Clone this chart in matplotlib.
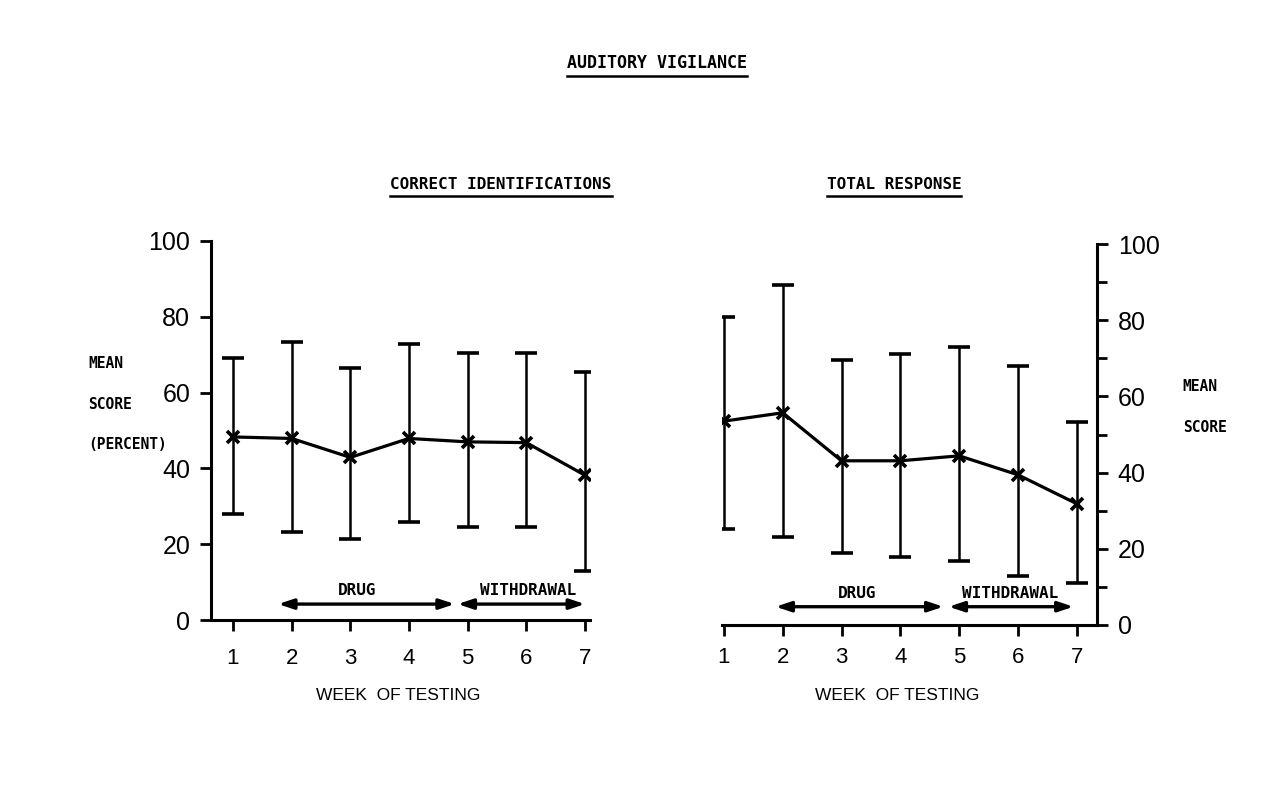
import matplotlib
matplotlib.use("Agg")
import matplotlib.pyplot as plt
from matplotlib.ticker import MultipleLocator

# weekly means and error-bar limits
weeks = [1, 2, 3, 4, 5, 6, 7]
correct_mean = [48.3, 47.9, 42.9, 47.9, 47.0, 46.8, 38.2]
correct_hi = [69.0, 73.4, 66.5, 72.9, 70.5, 70.5, 65.5]
correct_lo = [28.1, 23.1, 21.5, 25.8, 24.6, 24.6, 13.0]
total_mean = [53.5, 55.7, 43.1, 43.1, 44.4, 39.4, 31.8]
total_hi = [80.9, 89.2, 69.6, 71.0, 72.9, 68.0, 53.4]
total_lo = [25.2, 23.2, 19.0, 17.8, 16.9, 12.9, 10.9]

# treatment phases (start week, end week) and where their names sit
phase_names = ["DRUG", "WITHDRAWAL"]
correct_phases = [(1.77, 4.78), (4.83, 7.0)]
correct_label_x = [3.11, 6.03]
total_phases = [(1.88, 4.73), (4.82, 6.94)]
total_label_x = [3.27, 5.86]

MONO = "DejaVu Sans Mono"
NUM = "Liberation Sans"

fig = plt.figure(figsize=(12.85, 8), dpi=100)
fig.patch.set_facecolor("white")


def draw_panel(ax, mean, lo, hi, phases, label_x, arrow_y, side, xpad):
    yerr = [[m - l for m, l in zip(mean, lo)], [h - m for m, h in zip(mean, hi)]]
    ax.errorbar(weeks, mean, yerr=yerr, color="black", lw=2.3, elinewidth=1.8,
                capsize=8, capthick=1.8, marker="x", ms=9, mew=2.6)
    ax.set_ylim(0, 100)
    ax.set_xticks(weeks)
    ax.set_yticks(range(0, 101, 20))
    for s in ["top", "right", "left"]:
        ax.spines[s].set_visible(False)
    ax.spines[side].set_visible(True)
    for s in ["bottom", side]:
        ax.spines[s].set_linewidth(2.2)
    if side == "right":
        ax.yaxis.tick_right()
        ax.yaxis.set_minor_locator(MultipleLocator(10))
        ax.tick_params(axis="y", which="minor", length=7, width=2)
    ax.tick_params(axis="both", which="major", length=8, width=2, pad=7)
    ax.tick_params(axis="y", labelsize=18)
    ax.tick_params(axis="x", labelsize=16, pad=xpad)
    for lab in ax.get_xticklabels() + ax.get_yticklabels():
        lab.set_family(NUM)
    ax.set_facecolor("none")
    for name, (x0, x1), lx in zip(phase_names, phases, label_x):
        ax.annotate("", xy=(x1, arrow_y), xytext=(x0, arrow_y),
                    arrowprops=dict(arrowstyle="<|-|>,head_length=0.9,head_width=0.3",
                                    color="black", lw=2.4, shrinkA=0, shrinkB=0))
        ax.text(lx, arrow_y + 3.5, name, ha="center", va="center",
                fontsize=11.5, family=MONO, fontweight="bold")


ax1 = fig.add_axes([0.1642, 0.225, 0.2949, 0.47375])
ax1.set_xlim(0.625, 7.085)
draw_panel(ax1, correct_mean, correct_lo, correct_hi, correct_phases,
           correct_label_x, 4.2, "left", 12)

ax2 = fig.add_axes([0.5619, 0.21875, 0.2918, 0.47625])
ax2.set_xlim(0.97, 7.34)
draw_panel(ax2, total_mean, total_lo, total_hi, total_phases,
           total_label_x, 4.8, "right", 8)

for x in [0.3097, 0.6984]:
    fig.text(x, 0.131, "WEEK  OF TESTING", ha="center", va="center",
             fontsize=12.5, family=NUM)

# axis captions
for y, s in zip([0.545, 0.494, 0.444], ["MEAN", "SCORE", "(PERCENT)"]):
    fig.text(0.0685, y, s, ha="left", va="center", fontsize=10.5, family=MONO, fontweight="bold")
for y, s in zip([0.5175, 0.466], ["MEAN", "SCORE"]):
    fig.text(0.9205, y, s, ha="left", va="center", fontsize=10.5, family=MONO, fontweight="bold")

# underlined titles
titles = [
    (0.5113, 0.921, "AUDITORY VIGILANCE", 12),
    (0.39, 0.769, "CORRECT IDENTIFICATIONS", 11.5),
    (0.6957, 0.769, "TOTAL RESPONSE", 11.5),
]
texts = []
for x, y, s, fs in titles:
    texts.append(fig.text(x, y, s, ha="center", va="center", fontsize=fs,
                          family=MONO, fontweight="bold"))
fig.canvas.draw()
r = fig.canvas.get_renderer()
for t in texts:
    bb = t.get_window_extent(r).transformed(fig.transFigure.inverted())
    fig.add_artist(plt.Line2D([bb.x0, bb.x1], [bb.y0 - 0.005, bb.y0 - 0.005],
                              color="black", lw=1.8, transform=fig.transFigure))

fig.savefig("out.png", dpi=100, facecolor="white")
